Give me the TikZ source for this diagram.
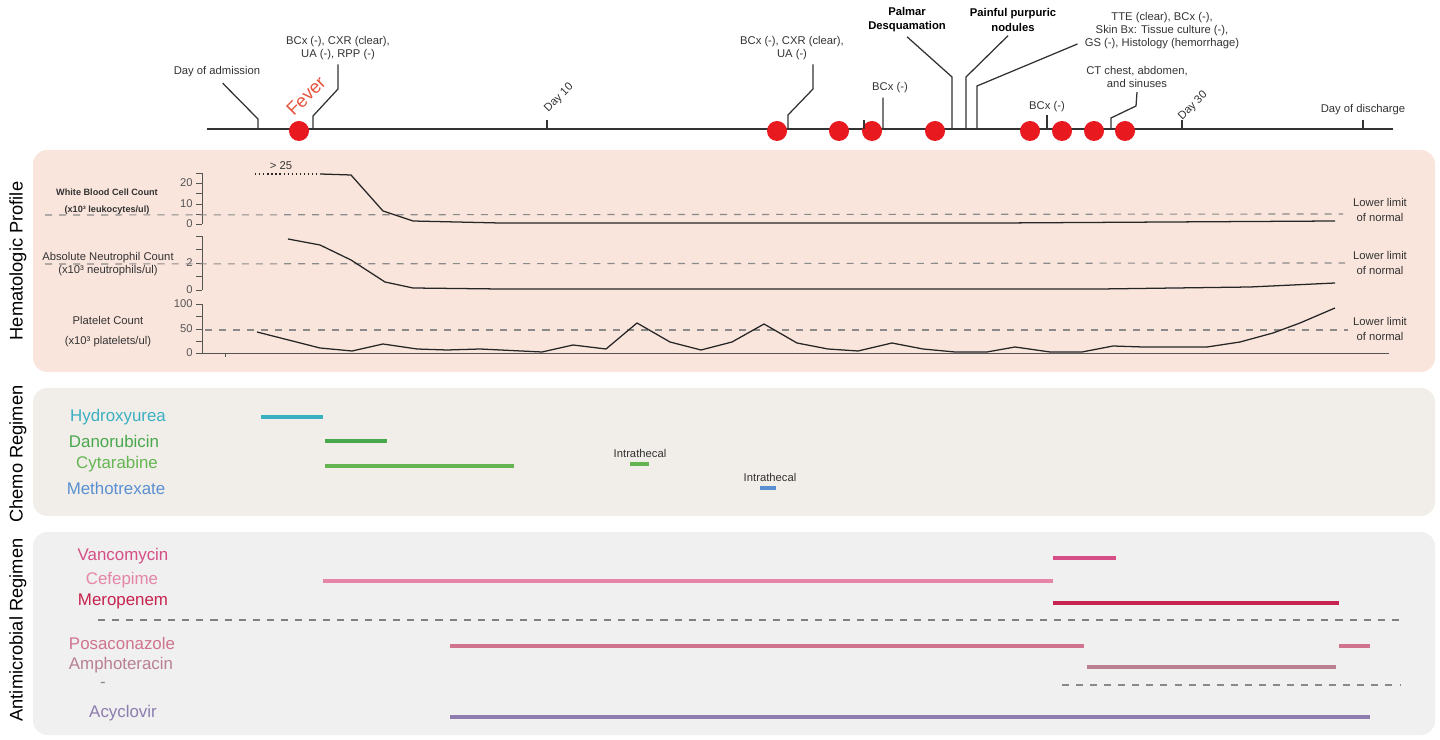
\documentclass[tikz,border=0pt]{standalone}
\usepackage{fontspec}
\setmainfont{Liberation Sans}
\definecolor{hemabg}{HTML}{FAE5DC}
\definecolor{chemobg}{HTML}{F1EDE8}
\definecolor{abxbg}{HTML}{F0F0F0}
\definecolor{feverred}{HTML}{E8191F}
\definecolor{fevertxt}{HTML}{E5533D}
\definecolor{txtgray}{HTML}{333333}
\definecolor{axgray}{HTML}{555555}
\definecolor{llgray}{HTML}{8A8A8A}
\definecolor{hydroxy}{HTML}{3BB0C2}
\definecolor{dauno}{HTML}{48A84C}
\definecolor{cytara}{HTML}{64B552}
\definecolor{mtx}{HTML}{5A90D2}
\definecolor{vanco}{HTML}{D54E86}
\definecolor{cefep}{HTML}{E585A8}
\definecolor{merop}{HTML}{C6234F}
\definecolor{posac}{HTML}{CF738E}
\definecolor{ampho}{HTML}{B88090}
\definecolor{acyc}{HTML}{8C7DAE}
\newcommand\fsz[2]{\fontsize{#1}{#2}\selectfont}
\tikzset{
  tltext/.style={font=\fsz{8}{9.3}, text=txtgray, inner sep=0pt, align=center},
  tlbold/.style={tltext, font=\fsz{8}{10}\bfseries, text=black},
  tline/.style={draw=txtgray, line width=0.9pt},
  callout/.style={draw=txtgray, line width=0.9pt},
  fevertext/.style={font=\fsz{13}{15}, text=fevertxt, inner sep=0pt, rotate=45},
  paneltitle/.style={font=\fsz{13}{15}, rotate=90, inner sep=0pt},
  axln/.style={draw=axgray, line width=0.6pt},
  numlbl/.style={font=\fsz{8}{9}, text=axgray, inner sep=0pt, anchor=east},
  hemalbl/.style={text=txtgray, inner sep=0pt, align=center},
  lowlim/.style={draw=llgray, line width=0.8pt, dash pattern=on 5pt off 5pt},
  llimtext/.style={font=\fsz{8}{10}, text=txtgray, inner sep=0pt, align=center},
  dataln/.style={draw=black!85, line width=0.9pt, line join=round},
  druglbl/.style={font=\fsz{12}{14}, inner sep=0pt},
  drugbar/.style={line width=2.2pt},
  ithtext/.style={font=\fsz{8}{9}, text=txtgray, inner sep=0pt}
}
\begin{document}
\begin{tikzpicture}[x=0.025cm,y=-0.025cm]
\useasboundingbox (0,0) rectangle (1440,740);

\fill[hemabg,rounded corners=10pt] (33,150) rectangle (1435,372);
\fill[chemobg,rounded corners=10pt] (33,388) rectangle (1435,516);
\fill[abxbg,rounded corners=10pt] (33,532) rectangle (1435,735);

\node[paneltitle] (hema) at (18,261) {Hematologic Profile};
\node[paneltitle] (chemo) at (18,454) {Chemo Regimen};
\node[paneltitle] (abx) at (18,630) {Antimicrobial Regimen};

\draw[tline] (207,129) -- (1393,129);
\foreach \x in {299,777,839,872,935,1030,1062,1094,1125}
  \fill[feverred] (\x,131) circle[radius=10];
\draw[tline] (547,120) -- (547,129);
\draw[tline] (864,120) -- (864,129);
\draw[tline] (1182,120) -- (1182,129);

\node[tltext] (admit) at (217,72) {Day of admission};
\node[tltext] (bcxa) at (338,48) {BCx (-), CXR (clear),\\UA (-), RPP (-)};
\node[fevertext] (fever) at (306,96) {Fever};
\node[tltext,rotate=45] (dayten) at (559,98) {Day 10};
\node[tltext] (bcxb) at (792,48) {BCx (-), CXR (clear),\\UA (-)};
\node[tltext] (bcxc) at (890,88) {BCx (-)};
\node[tlbold] (palmar) at (907,20) {Palmar\\Desquamation};
\node[tlbold] (painful) at (1013,20) {Painful purpuric\\nodules};
\node[tltext] (tte) at (1162,31) {TTE (clear), BCx (-),\\Skin Bx: Tissue culture (-),\\GS (-), Histology (hemorrhage)};
\node[tltext] (bcxd) at (1047,107) {BCx (-)};
\node[tltext] (ctscan) at (1137,77) {CT chest, abdomen,\\and sinuses};
\node[tltext,rotate=45] (daythirty) at (1193,106) {Day 30};
\node[tltext] (discharge) at (1363,110) {Day of discharge};

\draw[callout] ([xshift=4pt,yshift=-4pt]admit.south) -- (258,119) -- (258,129);
\draw[callout] ([yshift=-3pt]bcxa.south) -- (338,89) -- (313,116) -- (313,129);
\draw[callout] ([xshift=15pt,yshift=-3pt]bcxb.south) -- (813,89) -- (788,115) -- (788,129);
\draw[callout] ([xshift=-5pt,yshift=-3pt]bcxc.south) -- (883,129);
\draw[callout] ([yshift=-3pt]palmar.south) -- (952,77) -- (952,129);
\draw[callout] ([xshift=-3.5pt,yshift=-3pt]painful.south) -- (966,77) -- (966,129);
\draw[callout] ([xshift=-5pt,yshift=4pt]tte.south west) -- (977,86) -- (977,129);
\draw[callout] ([yshift=-2pt]bcxd.south) -- (1047,129);
\draw[callout] ([yshift=-3pt]ctscan.south) -- (1136,106) -- (1111,118) -- (1111,129);
\draw[tline] ([yshift=-3pt]discharge.south) -- (1363,129);

\draw[axln] (202,173) -- (202,224);
\foreach \y in {173,183,193,204,214,224} \draw[axln] (196,\y) -- (202,\y);
\node[numlbl] (wbctwenty) at (193,183) {20};
\node[numlbl] (wbcten) at (193,204) {10};
\node[numlbl] (wbczero) at (193,224) {0};
\node[hemalbl,font=\fsz{6.5}{12}\bfseries] (wbclbl) at (107,202) {White Blood Cell Count\\(x10³ leukocytes/ul)};

\draw[axln] (202,236) -- (202,290);
\foreach \y in {236,249,263,276,290} \draw[axln] (196,\y) -- (202,\y);
\node[numlbl] (anctwo) at (193,263) {2};
\node[numlbl] (anczero) at (193,290) {0};
\node[hemalbl,font=\fsz{8}{8.8}] (anclbl) at (108,264) {Absolute Neutrophil Count\\(x10³ neutrophils/ul)};

\draw[axln] (202,304) -- (202,353) -- (1389,353);
\foreach \y in {304,316,329,341,353} \draw[axln] (196,\y) -- (202,\y);
\draw[axln] (225,353) -- (225,357);
\node[numlbl] (plthundred) at (193,304) {100};
\node[numlbl] (pltfifty) at (193,329) {50};
\node[numlbl] (pltzero) at (193,353) {0};
\node[hemalbl,font=\fsz{8}{14.2}] (pltlbl) at (108,332) {Platelet Count\\(x10³ platelets/ul)};

\draw[lowlim] (45,215) -- (1343,214);
\draw[lowlim] (45,264) -- (1345,263);
\draw[lowlim] (205,330) -- (1348,330);
\node[llimtext] (wbcnorm) at (1380,210) {Lower limit\\of normal};
\node[llimtext] (ancnorm) at (1380,263) {Lower limit\\of normal};
\node[llimtext] (pltnorm) at (1380,329) {Lower limit\\of normal};

\draw[dataln, dotted, line width=1.1pt] (255,174) -- (320,174);
\node[tltext] (overtf) at (281,166) {> 25};
\draw[dataln] (320,174) -- (351,175) -- (383,211) -- (413,221) -- (500,223) -- (1000,223) -- (1335,221);
\draw[dataln] (288,239) -- (320,245) -- (351,260) -- (385,282) -- (413,288) -- (500,289) -- (1100,289) -- (1250,287) -- (1335,283);
\draw[dataln] (257,332) -- (320,348) -- (352,351) -- (383,344) -- (417,349) -- (447,350) -- (480,349)
  -- (542,352) -- (573,345) -- (606,349) -- (637,323) -- (670,342) -- (701,350) -- (732,342)
  -- (764,324) -- (797,343) -- (828,349) -- (858,351) -- (892,343) -- (923,349) -- (955,352)
  -- (987,352) -- (1015,347) -- (1050,352) -- (1082,352) -- (1113,346) -- (1143,347)
  -- (1207,347) -- (1240,342) -- (1273,333) -- (1300,323) -- (1335,308);

\node[druglbl,text=hydroxy] (hydroxyurea) at (118,417) {Hydroxyurea};
\node[druglbl,text=dauno] (danorubicin) at (114,441) {Danorubicin};
\node[druglbl,text=cytara] (cytarabine) at (117,464) {Cytarabine};
\node[druglbl,text=mtx] (methotrexate) at (116,488) {Methotrexate};
\draw[drugbar,hydroxy] (261,417) -- (323,417);
\draw[drugbar,dauno] (325,441) -- (387,441);
\draw[drugbar,cytara] (325,466) -- (514,466);
\draw[drugbar,cytara] (630,464) -- (649,464);
\draw[drugbar,mtx] (760,488) -- (776,488);
\node[ithtext] (ithcyt) at (640,453) {Intrathecal};
\node[ithtext] (ithmtx) at (770,477) {Intrathecal};

\node[druglbl,text=vanco] (vancomycin) at (123,556) {Vancomycin};
\node[druglbl,text=cefep] (cefepime) at (122,580) {Cefepime};
\node[druglbl,text=merop] (meropenem) at (123,601) {Meropenem};
\node[druglbl,text=posac] (posaconazole) at (122,643) {Posaconazole};
\node[druglbl,text=ampho] (amphoteracin) at (121,665) {Amphoteracin};
\node[druglbl,text=llgray] (blank) at (103,685) {-};
\node[druglbl,text=acyc] (acyclovir) at (123,713) {Acyclovir};
\draw[drugbar,vanco] (1053,558) -- (1116,558);
\draw[drugbar,cefep] (323,581) -- (1053,581);
\draw[drugbar,merop] (1053,603) -- (1339,603);
\draw[lowlim,draw=gray] (98,620) -- (1400,620);
\draw[drugbar,posac] (450,646) -- (1084,646);
\draw[drugbar,posac] (1339,646) -- (1370,646);
\draw[drugbar,ampho] (1087,667) -- (1336,667);
\draw[lowlim] (1062,685) -- (1400,685);
\draw[drugbar,acyc] (450,717) -- (1370,717);
\end{tikzpicture}
\end{document}
